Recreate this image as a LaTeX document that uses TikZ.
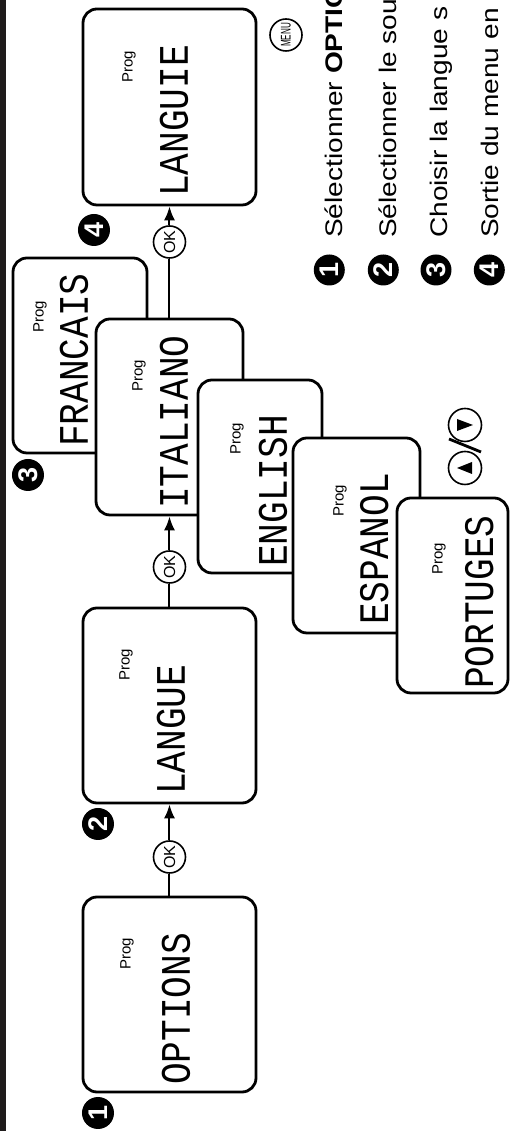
\documentclass[tikz,border=0pt]{standalone}
\usepackage{fontspec}
\setmainfont{Liberation Sans}
\newfontfamily\lcdfont[FakeStretch=0.86]{Liberation Mono}
\newfontfamily\listfont[FakeStretch=1.17]{Liberation Sans}
\newfontfamily\menufont[FakeStretch=0.58]{Liberation Sans}
\usetikzlibrary{arrows.meta,calc}
\definecolor{BarClr}{rgb}{0.12,0.11,0.11}

\tikzset{
  screen/.style={draw, line width=2.8pt, rounded corners=14pt, fill=white,
    minimum width=195, minimum height=173, inner sep=0},
  lcd/.style={font=\lcdfont\fontsize{42}{42}\selectfont, inner sep=0, anchor=base west},
  prog/.style={font=\fontsize{15}{15}\selectfont, inner sep=0, anchor=north},
  okbtn/.style={circle, draw, line width=1.6pt, fill=white, minimum size=32,
    inner sep=0, font=\fontsize{16}{16}\selectfont},
  badge/.style={circle, fill=black, text=white, minimum size=32, inner sep=0,
    font=\bfseries\fontsize{27}{27}\selectfont},
  link/.style={line width=2pt},
  linkarr/.style={link, -{Latex[length=14pt,width=11pt]}},
  item/.style={font=\listfont\fontsize{24}{24}\selectfont, inner sep=0, anchor=base west}
}

\begin{document}
\begin{tikzpicture}[x=1pt, y=1pt, rotate=90, transform shape]

\useasboundingbox (0,0) rectangle (1131,510);
\clip (0,0) rectangle (1131,510);

\fill[BarClr] (0,504) rectangle (1131,510);

% screens 1 and 2
\node[screen] (opt) at (136.5,340.5) {};
\node[lcd] (opt-w) at (46,320) {OPTIONS};
\node[prog] (opt-p) at (177,390) {Prog};

\node[screen] (lang) at (425.5,340.5) {};
\node[lcd] (lang-w) at (336,325) {LANGUE};
\node[prog] (lang-p) at (466,391) {Prog};

% stack of languages, back to front
\node[screen, minimum width=195, minimum height=134] (fra) at (775.5,430) {};
\node[lcd] (fra-w) at (684,422) {FRANCAIS};
\node[prog] (fra-p) at (814,477) {Prog};

\node[screen, minimum width=196, minimum height=147] (ita) at (714,340.5) {};
\node[lcd] (ita-w) at (622,322) {ITALIANO};
\node[prog] (ita-p) at (755,378) {Prog};

\node[screen, minimum width=193, minimum height=124] (eng) at (654.5,250) {};
\node[lcd] (eng-w) at (564,223) {ENGLISH};
\node[prog] (eng-p) at (692,280) {Prog};

\node[screen, minimum width=195, minimum height=127] (esp) at (595.5,153.5) {};
\node[lcd] (esp-w) at (506,122) {ESPANOL};
\node[prog] (esp-p) at (630,177) {Prog};

\node[screen, minimum width=195, minimum height=111] (por) at (535.5,57.5) {};
\node[lcd] (por-w) at (442,17) {PORTUGES};
\node[prog] (por-p) at (572,78) {Prog};

% screen 4
\node[screen, minimum width=196] (langi) at (1024,340.5) {};
\node[lcd] (langi-w) at (934,322) {LANGUIE};
\node[prog] (langi-p) at (1064,388) {Prog};

% buttons
\node[okbtn] (ok1) at (274,340.5) {OK};
\node[okbtn] (ok2) at (564,340.5) {OK};
\node[okbtn] (ok3) at (889,340.5) {OK};
\node[okbtn, font=\menufont\fontsize{14}{14}\selectfont] (menu) at (1096,224) {MENU};

\node[okbtn, minimum size=33] (up) at (663,45) {};
\node[okbtn, minimum size=33] (down) at (706,45) {};
\fill ($(up)+(-6,-7)$) -- ($(up)+(6,-7)$) -- ($(up)+(0,8)$) -- cycle;
\fill ($(down)+(-6,8)$) -- ($(down)+(6,8)$) -- ($(down)+(0,-8)$) -- cycle;
\draw[line width=2.8pt] (679,29) -- (692,61);

\draw[link] (opt) -- (ok1);
\draw[linkarr] (ok1) -- (lang);
\draw[link] (lang) -- (ok2);
\draw[linkarr] (ok2) -- (ita);
\draw[link] (ita) -- (ok3);
\draw[linkarr] (ok3) -- (langi);

% step numbers
\node[badge] (b1) at (18,412) {1};
\node[badge] (b2) at (307,412) {2};
\node[badge] (b3) at (656,482) {3};
\node[badge] (b4) at (901,416) {4};

% legend
\node[badge, minimum size=31] (s1) at (861,180.7) {1};
\node[badge, minimum size=31] (s2) at (861,126.7) {2};
\node[badge, minimum size=31] (s3) at (861,74) {3};
\node[badge, minimum size=31] (s4) at (861,20.7) {4};
\node[item] (t1) at (893,167) {Sélectionner \textbf{OPTIO}};
\node[item] (t2) at (893,114) {Sélectionner le sou};
\node[item] (t3) at (893,63) {Choisir la langue s};
\node[item] (t4) at (893,11.5) {Sortie du menu en};

\end{tikzpicture}
\end{document}
